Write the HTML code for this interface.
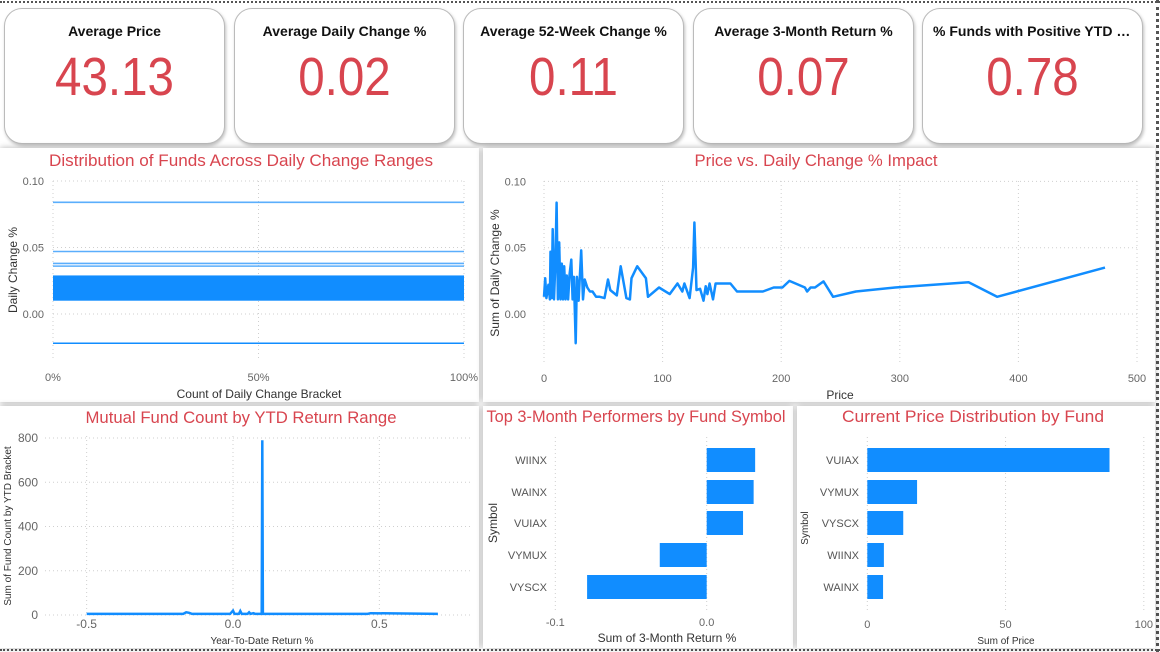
<!DOCTYPE html>
<html><head><meta charset="utf-8">
<style>
html,body{margin:0;padding:0;width:1160px;height:652px;overflow:hidden;background:#fff;font-family:"Liberation Sans",sans-serif;}
.dash{position:absolute;border-top:2px dotted #555;}
.card{position:absolute;top:8px;width:219px;height:134px;border:1px solid #bbb;border-radius:18px;background:#fff;box-shadow:1px 2px 3px rgba(0,0,0,.25);text-align:center;}
.card .t{margin-top:14px;font:bold 14px "Liberation Sans",sans-serif;color:#111;white-space:nowrap;overflow:hidden;text-overflow:ellipsis;padding:0 10px;}
.card .v{margin-top:5px;font-size:54px;color:#d8454f;line-height:66px;transform:scaleX(0.88);}
.panel{position:absolute;background:#fff;box-shadow:0 0 6px rgba(0,0,0,.3);}
svg{position:absolute;left:0;top:0;}
</style></head><body>
<div class="dash" style="left:0;top:1px;width:1160px"></div>
<div class="dash" style="left:0;top:649px;width:1160px"></div>
<div style="position:absolute;left:1156px;top:0;height:652px;border-left:3px dotted #555"></div>

<div class="card" style="left:4px"><div class="t">Average Price</div><div class="v">43.13</div></div>
<div class="card" style="left:234px"><div class="t">Average Daily Change %</div><div class="v">0.02</div></div>
<div class="card" style="left:463px"><div class="t">Average 52-Week Change %</div><div class="v">0.11</div></div>
<div class="card" style="left:693px"><div class="t">Average 3-Month Return %</div><div class="v">0.07</div></div>
<div class="card" style="left:922px"><div class="t">% Funds with Positive YTD Return</div><div class="v">0.78</div></div>

<div class="panel" style="left:0;top:148px;width:479px;height:254px"></div>
<div class="panel" style="left:483px;top:148px;width:672px;height:254px"></div>
<div class="panel" style="left:0;top:406px;width:479px;height:242px"></div>
<div class="panel" style="left:483px;top:406px;width:310px;height:242px"></div>
<div class="panel" style="left:797px;top:406px;width:358px;height:242px"></div>

<svg id="s" width="1160" height="652" xmlns="http://www.w3.org/2000/svg"></svg>

<script>
// Chart 1 data
const c1Levels = [0.084, 0.047, 0.038, 0.036, -0.022];
const c1BandLow = 0.010, c1BandHigh = 0.029;
const c1YTicks = [0.10, 0.05, 0.00];
const c1XTicks = ["0%", "50%", "100%"];
// Chart 2 data
const c2Price = [0,1,2,3.7,5,5.5,6.5,7.3,8.4,9.5,10.6,11.7,12.8,13.9,15,16,17,18.1,19.2,20.3,21.6,23,24.1,25.2,26.7,27.7,29.2,31.4,32.9,34.3,36.5,38.7,40.9,43.9,47,51,54,55.9,61.4,64.7,69.5,72.4,73.8,78.6,85.9,87.7,97,106,112.6,116.6,118.4,122.8,125.7,126.8,128.6,131.6,134.5,136.3,137.8,139.6,142.5,144.7,157.2,162.7,184.6,193.7,201,206.9,220,221.8,224.8,228.5,235.7,243.8,263,296,358,382,473];
const c2Value = [0.013,0.027,0.012,0.022,0.011,0.047,0.012,0.064,0.011,0.037,0.084,0.011,0.054,0.011,0.038,0.011,0.036,0.011,0.029,0.011,0.030,0.041,0.011,0.028,-0.022,0.028,0.010,0.048,0.011,0.026,0.020,0.017,0.017,0.013,0.013,0.012,0.026,0.018,0.014,0.036,0.012,0.011,0.027,0.036,0.027,0.013,0.020,0.015,0.023,0.017,0.023,0.012,0.035,0.069,0.018,0.019,0.010,0.021,0.015,0.023,0.011,0.023,0.023,0.017,0.017,0.020,0.020,0.025,0.020,0.017,0.020,0.020,0.0246,0.013,0.017,0.020,0.024,0.013,0.035];
const c2XTicks = [0,100,200,300,400,500];
const c2YTicks = [0.10,0.05,0.00];
// Chart 3 data
const c3X = [-0.5,-0.17,-0.16,-0.15,-0.14,-0.01,0.0,0.005,0.02,0.025,0.03,0.05,0.055,0.06,0.07,0.075,0.09,0.098,0.1,0.102,0.11,0.46,0.47,0.7];
const c3Y = [5,5,12,10,5,5,20,5,5,18,5,5,12,5,8,5,5,5,790,5,5,5,8,5];
const c3XTicks = [-0.5,0.0,0.5];
const c3YTicks = [0,200,400,600,800];
// Chart 4 data
const c4Symbols = ["WIINX","WAINX","VUIAX","VYMUX","VYSCX"];
const c4Values = [0.032,0.031,0.024,-0.031,-0.079];
const c4XTicks = [-0.1,0.0];
// Chart 5 data
const c5Symbols = ["VUIAX","VYMUX","VYSCX","WIINX","WAINX"];
const c5Values = [87.6,18,13,6,5.7];
const c5XTicks = [0,50,100];

const NS="http://www.w3.org/2000/svg";
const svg=document.getElementById('s');
function mk(tag,attrs,parent){const e=document.createElementNS(NS,tag);for(const k in attrs)e.setAttribute(k,attrs[k]);(parent||svg).appendChild(e);return e;}
function txt(x,y,s,size,fill,anchor,extra){const t=mk('text',Object.assign({x:x,y:y,'font-size':size,fill:fill,'text-anchor':anchor||'middle','font-family':'"Liberation Sans",sans-serif'},extra||{}));t.textContent=s;return t;}
const GRID='#cfcfcf', TICK='#666', RED='#d8454f', BLUE='#118dff';
function title(x,y,s,len){return txt(x,y,s,17,RED,'middle',{textLength:len,lengthAdjust:'spacingAndGlyphs'});}

// ---------- Chart 1 ----------
{
const x0=53,x1=464; const y=v=>314-(v/0.10)*133;
let t=title(241,166,"Distribution of Funds Across Daily Change Ranges",384);

c1YTicks.forEach(v=>{const l=mk('line',{x1:x0,x2:x1,y1:y(v),y2:y(v),stroke:GRID,'stroke-dasharray':'1,3'});

const tt=txt(44,y(v)+4,v.toFixed(2),11,TICK,'end');});
c1XTicks.forEach((s,i)=>{const xx=x0+(x1-x0)*i/2;const l=mk('line',{x1:xx,x2:xx,y1:181,y2:360,stroke:GRID,'stroke-dasharray':'1,3'});

const tt=txt(xx,381,s,11,TICK);});
const band=mk('rect',{x:x0,y:y(c1BandHigh),width:x1-x0,height:y(c1BandLow)-y(c1BandHigh),fill:BLUE});

c1Levels.forEach(v=>{const l=mk('line',{x1:x0,x2:x1,y1:y(v),y2:y(v),stroke:v<0?BLUE:'#5aaefc','stroke-width':1.6});
});
t=txt(259,398,"Count of Daily Change Bracket",12,'#333');
t=txt(17,270,"Daily Change %",12,'#333','middle',{transform:'rotate(-90 17 270)'});
}
// ---------- Chart 2 ----------
{
const x=p=>544+p*1.186; const y=v=>314-(v/0.10)*132.6;
let t=title(816,166,"Price vs. Daily Change % Impact",243);
c2YTicks.forEach(v=>{const l=mk('line',{x1:544,x2:1138,y1:y(v),y2:y(v),stroke:GRID,'stroke-dasharray':'1,3'});

const tt=txt(526,y(v)+4,v.toFixed(2),11,TICK,'end');});
c2XTicks.forEach(v=>{const l=mk('line',{x1:x(v),x2:x(v),y1:181,y2:365,stroke:GRID,'stroke-dasharray':'1,3'});

const tt=txt(x(v),382,String(v),11,TICK);});
const d=c2Price.map((p,i)=>(i?'L':'M')+x(p).toFixed(1)+','+y(c2Value[i]).toFixed(1)).join(' ');
const pl=mk('path',{d:d,fill:'none',stroke:BLUE,'stroke-width':2.5,'stroke-linejoin':'round'});

t=txt(840,399,"Price",12,'#333');
t=txt(499,273,"Sum of Daily Change %",12,'#333','middle',{transform:'rotate(-90 499 273)'});
}
// ---------- Chart 3 ----------
{
const x=v=>233+v*292.7; const y=v=>615-v*(177/800);
let t=title(241,423,"Mutual Fund Count by YTD Return Range",311);
c3YTicks.forEach(v=>{const l=mk('line',{x1:45,x2:472,y1:y(v),y2:y(v),stroke:GRID,'stroke-dasharray':'1,3'});

const tt=txt(38,y(v)+4,String(v),12,TICK,'end');});
c3XTicks.forEach(v=>{const l=mk('line',{x1:x(v),x2:x(v),y1:436,y2:615,stroke:GRID,'stroke-dasharray':'1,3'});

const tt=txt(x(v),628,v.toFixed(1),12,TICK);});
const d=c3X.map((v,i)=>(i?'L':'M')+x(v).toFixed(1)+','+y(c3Y[i]).toFixed(1)).join(' ');
const pl=mk('path',{d:d,fill:'none',stroke:BLUE,'stroke-width':2.5});

t=txt(262,644,"Year-To-Date Return %",10,'#333');
t=txt(11,526,"Sum of Fund Count by YTD Bracket",10,'#333','middle',{transform:'rotate(-90 11 526)'});
}
// ---------- Chart 4 ----------
{
const x=v=>706.7+v*1514; const rowY=[460,492,523,555,587];
let t=title(636,422,"Top 3-Month Performers by Fund Symbol",299);
c4XTicks.forEach(v=>{const l=mk('line',{x1:x(v),x2:x(v),y1:437,y2:612,stroke:GRID,'stroke-dasharray':'1,3'});

const tt=txt(x(v),626,v.toFixed(1),11,TICK);});
c4Symbols.forEach((s,i)=>{const v=c4Values[i];const r=mk('rect',{x:Math.min(x(0),x(v)),y:rowY[i]-12,width:Math.abs(x(v)-x(0)),height:24,fill:BLUE});

const tt=txt(547,rowY[i]+4,s,11,'#555','end');});
t=txt(667,642,"Sum of 3-Month Return %",12,'#333');
t=txt(497,523,"Symbol",12,'#333','middle',{transform:'rotate(-90 497 523)'});
}
// ---------- Chart 5 ----------
{
const x=v=>867.3+v*2.765; const rowY=[460,492,523,555,587];
let t=title(973,422,"Current Price Distribution by Fund",262);
c5XTicks.forEach(v=>{const l=mk('line',{x1:x(v),x2:x(v),y1:437,y2:612,stroke:GRID,'stroke-dasharray':'1,3'});

const tt=txt(x(v),628,String(v),11,TICK);});
c5Symbols.forEach((s,i)=>{const r=mk('rect',{x:x(0),y:rowY[i]-12,width:x(c5Values[i])-x(0),height:24,fill:BLUE});

const tt=txt(859,rowY[i]+4,s,11,'#555','end');});
t=txt(1006,644,"Sum of Price",10,'#333');
t=txt(808,528,"Symbol",10,'#333','middle',{transform:'rotate(-90 808 528)'});
}
</script>
</body></html>
